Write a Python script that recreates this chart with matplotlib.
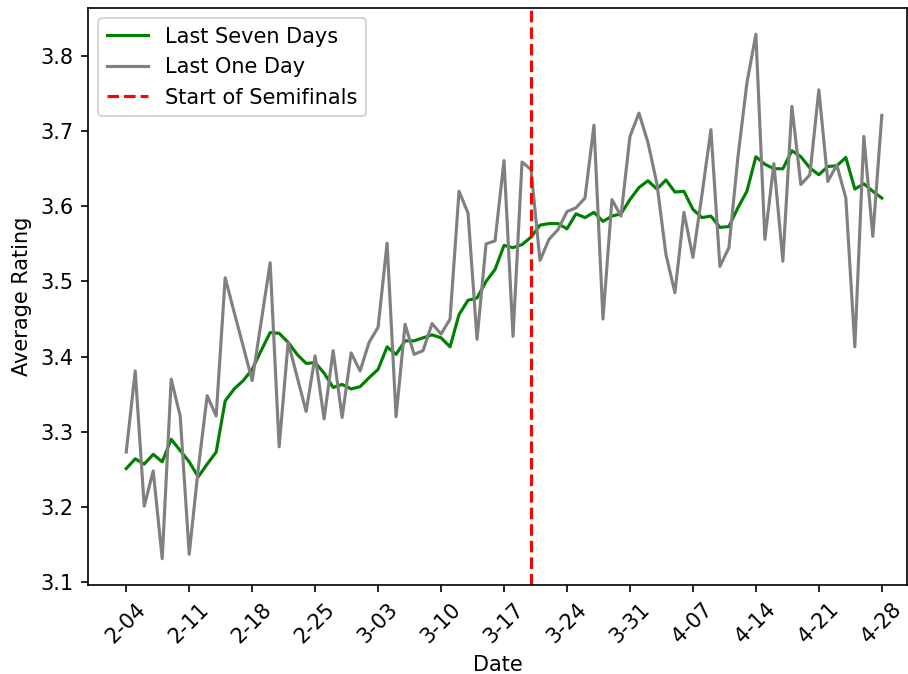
import pandas as pd
import matplotlib
matplotlib.use('Agg')
import matplotlib.pyplot as plt

# daily ratings, Feb 4 - Apr 28 2024
start_date = '2024-02-04'
end_date = '2024-04-28'
semis_date = '2024-03-20'

last_one_day = [
    3.273, 3.381, 3.201, 3.248, 3.131, 3.370, 3.321, 3.137, 3.250, 3.348,
    3.321, 3.505, 3.459, 3.414, 3.368, 3.446, 3.525, 3.280, 3.419, 3.373,
    3.327, 3.401, 3.317, 3.408, 3.319, 3.405, 3.381, 3.419, 3.439, 3.551,
    3.320, 3.443, 3.403, 3.408, 3.444, 3.430, 3.450, 3.620, 3.591, 3.423,
    3.550, 3.554, 3.661, 3.427, 3.659, 3.649, 3.528, 3.556, 3.569, 3.593,
    3.598, 3.611, 3.708, 3.450, 3.609, 3.587, 3.693, 3.724, 3.685, 3.630,
    3.536, 3.485, 3.592, 3.532, 3.615, 3.702, 3.520, 3.545, 3.665, 3.764,
    3.829, 3.556, 3.657, 3.527, 3.733, 3.629, 3.642, 3.755, 3.633, 3.655,
    3.611, 3.413, 3.693, 3.560, 3.721,
]

last_seven_days = [
    3.251, 3.264, 3.257, 3.270, 3.260, 3.290, 3.275, 3.260, 3.240, 3.257,
    3.273, 3.341, 3.357, 3.368, 3.383, 3.408, 3.432, 3.431, 3.419, 3.403,
    3.391, 3.392, 3.378, 3.359, 3.363, 3.357, 3.360, 3.372, 3.383, 3.413,
    3.403, 3.421, 3.421, 3.425, 3.429, 3.425, 3.413, 3.456, 3.475, 3.478,
    3.500, 3.516, 3.548, 3.545, 3.549, 3.559, 3.575, 3.577, 3.577, 3.570,
    3.590, 3.585, 3.592, 3.580, 3.587, 3.590, 3.609, 3.625, 3.634, 3.623,
    3.635, 3.619, 3.620, 3.596, 3.585, 3.587, 3.572, 3.573, 3.598, 3.620,
    3.666, 3.656, 3.650, 3.650, 3.674, 3.666, 3.651, 3.642, 3.653, 3.654,
    3.665, 3.623, 3.630, 3.620, 3.611,
]

dates = pd.date_range(start_date, end_date, freq='D')
tick_dates = dates[::7]
tick_labels = [f'{d.month}-{d.day:02d}' for d in tick_dates]

dpi = 150
fig = plt.figure(figsize=(909 / dpi, 674 / dpi), dpi=dpi)
ax = fig.add_axes([88 / 909, 1 - 585 / 674, (907 - 88) / 909, (585 - 8) / 674])

ax.plot(dates, last_seven_days, color='green', label='Last Seven Days')
ax.plot(dates, last_one_day, color='gray', label='Last One Day')
ax.axvline(pd.Timestamp(semis_date), color='red', linestyle='--', label='Start of Semifinals')

ax.set_xticks(tick_dates)
ax.set_xticklabels(tick_labels, rotation=45)
ax.set_xlim(dates[0] - pd.Timedelta(days=4.25), dates[0] + pd.Timedelta(days=86.8))
ax.set_xlabel('Date')
ax.set_ylabel('Average Rating')
ax.legend(loc='upper left')

fig.savefig('out.png', dpi=dpi)
